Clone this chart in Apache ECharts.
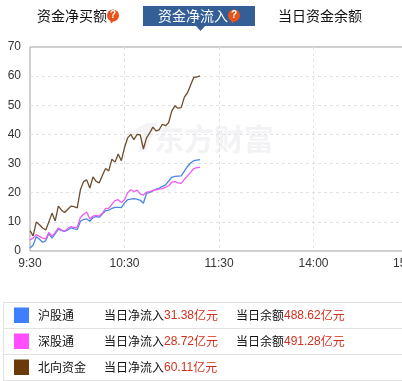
<!DOCTYPE html>
<html>
<head>
<meta charset="utf-8">
<style>html,body{margin:0;padding:0;background:#fff;overflow:hidden}#c{width:402px;height:381px}</style>
<script src="https://cdn.jsdelivr.net/npm/echarts@6/dist/echarts.min.js"></script>
</head>
<body>
<div id="c"></div>
<script>
const tabs = ['资金净买额', '资金净流入', '当日资金余额'];
const yTicks = [0, 10, 20, 30, 40, 50, 60, 70];
const xTickLabels = {0: '9:30', 60: '10:30', 120: '11:30', 180: '14:00', 240: '15:00'};
const stepMinutes = 2;
const hu = [1,2,4.9,4,3,3.5,6,4.4,6,7.5,7,6.7,7.2,8,7.6,7.4,10.2,10.8,11,10.2,11.5,11.8,11.6,12.8,13.8,14,14.6,15,15,14.9,16.5,17.6,17.8,18,17.8,17.4,16.4,19.8,20.1,20.6,21.2,21.5,22.2,22.6,24,25.3,25.6,25.7,25.8,27.4,29,30.2,31,31.2,31.38];
const shen = [3.8,4.4,5.6,5,4.4,4.2,6.4,5,6.4,7.9,7.2,6.8,7.8,8.4,8,8.2,11.5,12.6,13.4,11,12,12.2,12,13,14.6,14.6,16,17.3,17.6,16.6,17.6,20,21,20.4,20.9,19.6,19.2,20.2,20.4,20.8,21,21.2,21.4,21.8,22.4,23.6,23.8,23.4,23.2,24.6,25.8,27,28.3,28.6,28.72];
const north = [7,5.2,10,9,7.9,7.2,10,13,10.3,15.4,14,13.2,14.3,15.4,15.2,14.8,21,23.8,24.4,21.6,25.4,23.9,23.4,26,28.3,27.5,31.5,30.5,33.3,31,35.5,38.8,40,38.2,40,39.8,35,38.8,40.5,42.5,41.2,41.6,43.5,43,44,48,49.8,49,49.2,52.8,54.3,57,59.6,59.7,60.11];
const legendNames = ['沪股通', '深股通', '北向资金'];
const legendColors = ['#3d7fff', '#ff4dff', '#6b3a0a'];
const lineColors = ['#4a86e0', '#f05cf0', '#6e4c2c'];
const inflow = ['31.38', '28.72', '60.11'];
const balance = ['488.62', '491.28', null];

const font = '"Noto Sans CJK SC","Liberation Sans",sans-serif';
const toPairs = a => a.map((v, i) => [i * stepMinutes, v]);
const g = [];

// tabs
g.push({type:'rect', shape:{x:143,y:6,width:112,height:20}, style:{fill:'#335f96'}});
g.push({type:'polygon', shape:{points:[[196,26],[205,26],[200.5,31]]}, style:{fill:'#335f96'}});
[[37,'#111'],[158,'#fff'],[278,'#111']].forEach((t,i)=>{
  g.push({type:'text', x:t[0], y:16, style:{text:tabs[i], fill:t[1], font:'14px '+font, textVerticalAlign:'middle'}});
});
[113,234].forEach(x=>{
  g.push({type:'circle', shape:{cx:x,cy:15.5,r:6}, style:{fill:'#e8531a'}});
  g.push({type:'polygon', shape:{points:[[x-3,20],[x+2,20],[x-2,23.5]]}, style:{fill:'#e8531a'}});
  g.push({type:'text', x:x, y:15.5, style:{text:'?', fill:'#fff', font:'bold 10px "Liberation Sans"', textAlign:'center', textVerticalAlign:'middle'}});
});

// watermark
g.push({type:'polygon', z:0, shape:{points:[[126,135],[146,123],[158,123],[146,150],[138,153],[143,133]]}, style:{fill:'#f4f4f6'}});
g.push({type:'text', z:0, x:154, y:139, style:{text:'东方财富', fill:'#f3f3f5', font:'bold 30px '+font, textVerticalAlign:'middle'}});

// legend table
[302.5,328.5,354.5,380.5].forEach(y=>{
  g.push({type:'line', shape:{x1:3,y1:y,x2:402,y2:y}, style:{stroke:'#e2e2e2',lineWidth:1}});
});
g.push({type:'line', shape:{x1:3.5,y1:302,x2:3.5,y2:381}, style:{stroke:'#e2e2e2',lineWidth:1}});
const rich = {a:{fill:'#111',font:'12px '+font}, b:{fill:'#d2301f',font:'12px "Liberation Sans"'}, c:{fill:'#d2301f',font:'12px '+font}};
legendNames.forEach((n,i)=>{
  const top = 307.5 + i*26, mid = top + 8;
  g.push({type:'rect', shape:{x:14,y:top,width:15,height:15.5}, style:{fill:legendColors[i]}});
  g.push({type:'text', x:38, y:mid, style:{text:n, fill:'#111', font:'12px '+font, textVerticalAlign:'middle'}});
  g.push({type:'text', x:104, y:mid, style:{text:'{a|当日净流入}{b|'+inflow[i]+'}{c|亿元}', rich, textVerticalAlign:'middle'}});
  if (balance[i]) g.push({type:'text', x:236, y:mid, style:{text:'{a|当日余额}{b|'+balance[i]+'}{c|亿元}', rich, textVerticalAlign:'middle'}});
});

const chart = echarts.init(document.getElementById('c'), null, {renderer:'canvas'});
const mk = (name, data, color) => ({name, type:'line', data:toPairs(data), showSymbol:false, smooth:false, z:5, clip:true,
  lineStyle:{color, width:1.3}, itemStyle:{color}, emphasis:{disabled:true}});
chart.setOption({
  animation:false,
  backgroundColor:'#fff',
  grid:{left:30, top:47, width:378, height:204, containLabel:false, outerBoundsMode:'none', show:true, borderColor:'#a0a0a0', borderWidth:1, backgroundColor:'transparent'},
  xAxis:{type:'value', min:0, max:240, interval:60,
    axisLine:{show:false}, axisTick:{show:false},
    axisLabel:{color:'#333', fontSize:12, fontFamily:'"Liberation Sans"', margin:7, hideOverlap:false, alignMaxLabel:'center', formatter:v=>xTickLabels[v], showMinLabel:true, showMaxLabel:true},
    splitLine:{show:true, showMinLine:false, showMaxLine:false, lineStyle:{color:'#dfe3e8', type:[3,3], width:1}}},
  yAxis:{type:'value', min:yTicks[0], max:yTicks[yTicks.length-1], interval:10,
    axisLine:{show:false}, axisTick:{show:false},
    axisLabel:{color:'#333', fontSize:12, fontFamily:'"Liberation Sans"', margin:9},
    splitLine:{show:true, showMinLine:false, showMaxLine:false, lineStyle:{color:'#dfe3e8', type:[3,3], width:1}}},
  series:[mk(legendNames[0],hu,lineColors[0]), mk(legendNames[1],shen,lineColors[1]), mk(legendNames[2],north,lineColors[2])],
  graphic:{elements:g}
});
</script>
</body>
</html>
